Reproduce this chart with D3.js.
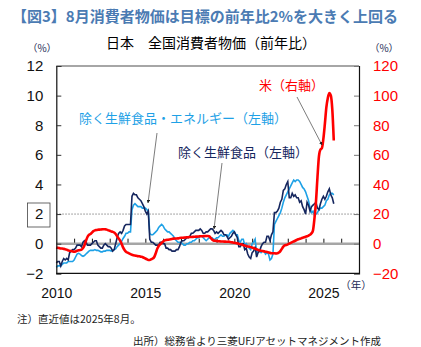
<!DOCTYPE html>
<html><head><meta charset="utf-8">
<script src="https://cdn.jsdelivr.net/npm/d3@7"></script>
<style>body{margin:0;background:#fff} svg{display:block}</style>
</head><body>
<script>
// Monthly data, Jan 2010 .. Aug 2025
const startYear = 2010;
const coreCore = [ // 除く生鮮食品・エネルギー (left axis, %)
 -1.6,-1.5,-1.5,-1.5,-1.4,-1.3,-1.3,-1.3,-1.2,-1.2,-1.2,-1.2,
 -1.1,-0.9,-0.7,-0.65,-0.7,-0.8,-0.85,-0.8,-0.7,-0.6,-0.5,-0.45,
 -0.45,-0.45,-0.4,-0.45,-0.45,-0.5,-0.55,-0.55,-0.5,-0.5,-0.45,-0.45,
 -0.45,-0.5,-0.45,-0.4,-0.35,-0.2,-0.1,0.0,0.15,0.35,0.5,0.7,
 0.7,0.8,0.8,2.3,2.6,2.7,2.6,2.5,2.5,2.5,2.4,2.4,
 2.4,2.3,2.2,0.7,0.6,0.6,0.7,0.8,0.9,1.1,1.2,1.3,
 1.2,1.0,0.9,0.8,0.8,0.7,0.6,0.5,0.3,0.2,0.1,0.1,
 0.1,0.0,-0.1,-0.1,0.0,0.0,0.1,0.1,0.2,0.2,0.3,0.4,
 0.4,0.5,0.5,0.4,0.3,0.2,0.3,0.4,0.4,0.4,0.3,0.3,
 0.4,0.4,0.5,0.6,0.5,0.5,0.6,0.6,0.5,0.7,0.8,0.9,
 0.8,0.6,0.6,0.2,0.1,0.3,0.3,-0.1,0.0,-0.2,-0.3,-0.4,
 0.0,0.1,0.3,-0.6,-0.5,-0.5,-0.6,-0.5,-0.5,-0.7,-0.6,-0.7,
 -1.1,-1.0,-0.7,1.3,1.5,1.7,1.9,2.1,2.4,2.8,3.1,3.3,
 3.5,3.7,3.9,4.1,4.3,4.2,4.3,4.3,4.2,4.0,3.8,3.7,
 3.5,3.2,2.9,2.4,2.1,2.2,1.9,2.0,2.1,2.3,2.4,2.4,
 2.5,2.6,2.9,3.0,3.3,3.4,3.4,3.3
];
const core = [ // 除く生鮮食品 (left axis, %)
 -1.3,-1.2,-1.2,-1.5,-1.2,-1.0,-1.1,-1.0,-1.1,-0.6,-0.5,-0.4,
 -0.4,-0.3,-0.1,-0.1,-0.1,-0.2,0.1,0.2,0.1,-0.1,-0.1,-0.1,
 0.0,0.1,0.2,0.2,-0.1,-0.2,-0.3,-0.3,-0.1,0.0,-0.1,-0.2,
 -0.2,-0.3,-0.5,-0.4,0.0,0.4,0.7,0.8,0.7,0.9,1.2,1.3,
 1.3,1.3,1.3,3.2,3.4,3.3,3.3,3.1,3.0,2.9,2.7,2.5,
 2.2,2.0,2.2,0.3,0.1,0.1,0.0,-0.1,-0.1,-0.1,0.1,0.1,
 0.0,0.0,-0.3,-0.3,-0.4,-0.4,-0.5,-0.5,-0.5,-0.4,-0.4,-0.2,
 0.1,0.2,0.2,0.3,0.4,0.4,0.5,0.7,0.7,0.8,0.9,0.9,
 0.9,1.0,0.9,0.7,0.7,0.8,0.8,0.9,1.0,1.0,0.9,0.7,
 0.8,0.7,0.8,0.9,0.8,0.6,0.6,0.5,0.3,0.4,0.5,0.7,
 0.8,0.6,0.4,-0.2,-0.2,0.0,0.0,-0.4,-0.3,-0.7,-0.9,-1.0,
 -0.6,-0.5,-0.2,-0.9,-0.6,-0.5,-0.2,0.0,0.1,0.1,0.5,0.5,
 0.2,0.6,0.8,2.1,2.1,2.2,2.4,2.8,3.0,3.6,3.7,4.0,
 4.2,3.1,3.1,3.4,3.2,3.3,3.1,3.1,2.8,2.9,2.5,2.3,
 2.0,2.8,2.6,2.2,2.5,2.6,2.7,2.8,2.4,2.3,2.7,3.0,
 3.2,3.0,3.2,3.5,3.7,3.3,3.1,2.7
];
const rice = [ // 米 (right axis, %)
 -2.5,-2.8,-3.0,-3.2,-3.3,-3.5,-3.8,-4.0,-4.5,-4.8,-5.0,-5.2,
 -5.4,-5.2,-4.8,-4.5,-4.3,-4.0,-3.0,-1.0,2.0,4.5,5.9,6.5,
 7.5,8.5,9.0,9.2,9.4,9.5,9.6,9.7,9.8,9.7,9.5,9.0,
 8.8,8.3,8.0,7.5,6.5,5.0,3.6,2.0,0.0,-2.5,-4.3,-5.5,
 -6.0,-6.5,-7.0,-7.5,-7.8,-8.0,-8.2,-8.4,-8.5,-8.8,-9.0,-9.5,
 -10.0,-10.5,-11.0,-11.0,-10.5,-10.0,-9.0,-6.5,-3.5,-1.5,-0.5,0.5,
 1.5,2.2,2.5,2.6,2.8,3.0,3.2,3.4,3.5,3.5,3.6,3.8,
 4.0,4.0,4.1,4.2,4.3,4.4,4.5,4.5,4.6,4.7,4.8,4.8,
 4.9,5.0,5.0,5.1,5.1,5.2,5.2,5.0,4.0,2.8,2.2,2.0,
 1.8,1.7,1.6,1.5,1.5,1.4,1.4,1.3,1.4,1.2,1.0,0.8,
 0.6,0.4,0.2,0.0,-0.3,-0.6,-1.0,-1.3,-1.6,-1.9,-2.0,-2.3,
 -2.6,-3.0,-3.4,-3.8,-4.2,-4.5,-4.8,-5.0,-5.2,-5.4,-5.6,-5.9,
 -6.2,-6.4,-6.5,-6.5,-6.6,-6.5,-6.0,-5.0,-3.5,-2.0,-1.0,-0.9,
 -0.5,0.0,0.5,1.0,1.5,2.0,2.5,3.0,3.3,3.6,4.0,4.3,
 4.7,5.0,5.5,6.0,7.0,9.0,17.2,28.3,44.7,58.9,63.6,64.5,
 70.9,80.9,92.1,98.4,101.7,100.2,90.7,69.7
];
const leftTicks = [-2,0,2,4,6,8,10,12];
const rightTicks = [-20,0,20,40,60,80,100,120];
const xLabelYears = [2010,2015,2020,2025];
const yearTicks = d3.range(2011,2027);

const title = "【図3】8月消費者物価は目標の前年比2%を大きく上回る";
const subtitle = "日本　全国消費者物価（前年比）";
const labelRice = "米（右軸）";
const labelCoreCore = "除く生鮮食品・エネルギー（左軸）";
const labelCore = "除く生鮮食品（左軸）";
const note = "注）直近値は2025年8月。";
const source = "出所）総務省より三菱UFJアセットマネジメント作成";

const W=421,H=347;
const L=56.3,R=359,T=66,B=273.3;
const JP = "'Noto Sans CJK JP', sans-serif";
const NUM = "'Liberation Sans', Arial, sans-serif";
const svg = d3.select("body").append("svg").attr("width",W).attr("height",H);
const x = d3.scaleLinear().domain([2010,2027]).range([L,R]);
const y = d3.scaleLinear().domain([-2,12]).range([B,T]);
const y2 = d3.scaleLinear().domain([-20,120]).range([B,T]);
const t = i => startYear + i/12;

svg.append("defs").append("marker").attr("id","ah")
  .attr("viewBox","0 0 10 10").attr("refX",9).attr("refY",5)
  .attr("markerWidth",5).attr("markerHeight",5).attr("orient","auto")
  .append("path").attr("d","M0,0L10,5L0,10z").attr("fill","#222");

// titles
svg.append("text").attr("x",12).attr("y",22).text(title)
  .attr("font-family",JP).attr("font-weight","bold").attr("font-size",15).attr("fill","#4b7bb3");
svg.append("text").attr("x",106).attr("y",48).text(subtitle)
  .attr("font-family",JP).attr("font-size",14).attr("fill","#000");
svg.append("text").attr("x",42).attr("y",52).attr("text-anchor","middle").text("（%）")
  .attr("font-family",JP).attr("font-size",10).attr("fill","#1c2a55");
svg.append("text").attr("x",384).attr("y",52).attr("text-anchor","middle").text("（%）")
  .attr("font-family",JP).attr("font-size",10).attr("fill","#1c2a55");

// 2% dotted line
svg.append("line").attr("x1",L).attr("x2",R).attr("y1",y(2)).attr("y2",y(2))
  .attr("stroke","#888").attr("stroke-width",1).attr("stroke-dasharray","1.5,1.5");
// zero line
svg.append("line").attr("x1",L).attr("x2",R).attr("y1",y(0)).attr("y2",y(0))
  .attr("stroke","#a6a6a6").attr("stroke-width",2.5);
// top line
svg.append("line").attr("x1",L).attr("x2",R).attr("y1",T).attr("y2",T)
  .attr("stroke","#a6a6a6").attr("stroke-width",2);

// year ticks on zero line
const yt = svg.append("g").attr("transform",`translate(0,${y(0)-1})`)
  .call(d3.axisTop(x).tickValues(yearTicks).tickSize(4).tickFormat(""));
yt.select(".domain").remove();
yt.selectAll("line").attr("stroke","#111");

// series
const lineL = d3.line().x((d,i)=>x(t(i))).y(d=>y(d));
const lineR = d3.line().x((d,i)=>x(t(i))).y(d=>y2(d)).curve(d3.curveMonotoneX);
svg.append("path").datum(coreCore).attr("d",lineL).attr("fill","none")
  .attr("stroke","#1ea1e6").attr("stroke-width",1.6);
svg.append("path").datum(core).attr("d",lineL).attr("fill","none")
  .attr("stroke","#15265e").attr("stroke-width",1.6);
svg.append("path").datum(rice).attr("d",lineR).attr("fill","none")
  .attr("stroke","#ff0000").attr("stroke-width",2.6).attr("stroke-linejoin","round");

// axes
const ax = svg.append("g").attr("transform",`translate(${L},0)`)
  .call(d3.axisLeft(y).tickValues(leftTicks).tickSize(-5).tickPadding(13));
ax.select(".domain").attr("stroke","#111").attr("stroke-width",1.2);
ax.selectAll("line").attr("stroke","#333");
ax.selectAll("text").attr("font-family",NUM).attr("font-size",15).attr("fill","#111");
const ax2 = svg.append("g").attr("transform",`translate(${R},0)`)
  .call(d3.axisRight(y2).tickValues(rightTicks).tickSize(-5).tickPadding(14));
ax2.select(".domain").attr("stroke","#111").attr("stroke-width",1.2);
ax2.selectAll("line").attr("stroke","#777");
ax2.selectAll("text").attr("font-family",NUM).attr("font-size",15).attr("fill","#ff0000");
// bottom frame + x labels
svg.append("line").attr("x1",L).attr("x2",R).attr("y1",B).attr("y2",B)
  .attr("stroke","#111").attr("stroke-width",1.2);
const xb = svg.append("g").attr("transform",`translate(0,${B})`)
  .call(d3.axisBottom(x).tickValues(xLabelYears).tickSize(0).tickPadding(15).tickFormat(d3.format("d")));
xb.select(".domain").remove();
xb.selectAll("text").attr("font-family",NUM).attr("font-size",14).attr("fill","#111");
svg.append("text").attr("x",356).attr("y",289).attr("text-anchor","middle").text("（年）")
  .attr("font-family",JP).attr("font-size",10.5).attr("fill","#1c2a55");

// boxed "2"
svg.append("rect").attr("x",27.5).attr("y",203).attr("width",22.5).attr("height",24)
  .attr("fill","none").attr("stroke","#444").attr("stroke-width",0.8);

// annotations
svg.append("text").attr("x",259).attr("y",90).text(labelRice)
  .attr("font-family",JP).attr("font-size",13).attr("fill","#ff0000");
svg.append("text").attr("x",79).attr("y",123).text(labelCoreCore)
  .attr("font-family",JP).attr("font-size",13).attr("fill","#1ea1e6");
svg.append("text").attr("x",178).attr("y",157).text(labelCore)
  .attr("font-family",JP).attr("font-size",13).attr("fill","#15265e");
const arrows = [[297,97,322,145],[157,133,148,203],[222,163,214,229]];
svg.selectAll(".arr").data(arrows).enter().append("line")
  .attr("x1",d=>d[0]).attr("y1",d=>d[1]).attr("x2",d=>d[2]).attr("y2",d=>d[3])
  .attr("stroke","#444").attr("stroke-width",0.7).attr("marker-end","url(#ah)");

// notes
svg.append("text").attr("x",17).attr("y",323).text(note)
  .attr("font-family",JP).attr("font-size",10.5).attr("fill","#222");
svg.append("text").attr("x",133).attr("y",345).text(source)
  .attr("font-family",JP).attr("font-size",10.5).attr("fill","#222");
</script>
</body></html>
